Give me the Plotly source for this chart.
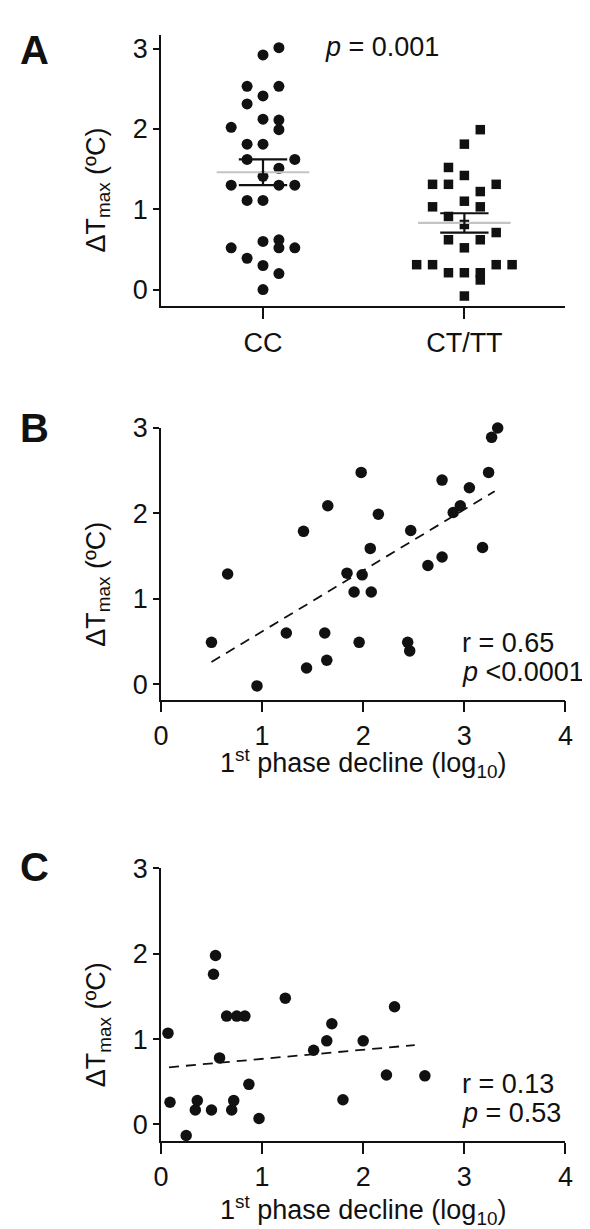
import plotly.graph_objects as go

# ---- panel A: dot plot by genotype ----
groups = ["CC", "CT/TT"]
cc_values = [3.01, 2.92, 2.53, 2.53, 2.41, 2.31, 2.12, 2.11, 2.02, 1.99, 1.81, 1.81,
             1.62, 1.62, 1.51, 1.41, 1.30, 1.30, 1.30, 1.11, 1.11,
             0.60, 0.62, 0.52, 0.52, 0.52, 0.39, 0.30, 0.20, 0.00]
cc_slots = [1, 0, -1, 1, 0, -1, 0, 1, -2, 1, -1, 0,
            -1, 2, 1, 0, -2, 1, 2, -1, 0,
            0, 1, -2, 1, 2, -1, 0, 1, 0]
ct_values = [1.99, 1.81, 1.52, 1.42, 1.31, 1.31, 1.31, 1.22, 1.10, 1.03, 1.03,
             0.91, 0.81, 0.71, 0.62, 0.62, 0.52, 0.31, 0.31, 0.31, 0.31,
             0.21, 0.21, 0.21, 0.12, -0.08]
ct_slots = [1, 0, -1, 0, -2, -1, 2, 1, 0, -2, 1,
            -1, 0, 2, -1, 1, 0, -3, -2, 2, 3,
            -1, 0, 1, 1, 0]
group_means = [1.46, 0.83]
group_sems = [0.16, 0.12]
p_text_a = "<i>p</i> = 0.001"

# ---- panel B ----
b_x = [0.50, 0.66, 0.95, 1.24, 1.41, 1.44, 1.62, 1.64, 1.65, 1.84, 1.91, 1.96, 1.98, 1.99,
       2.07, 2.08, 2.15, 2.44, 2.46, 2.47, 2.64, 2.78, 2.78, 2.89, 2.96, 3.05, 3.18, 3.24,
       3.27, 3.33]
b_y = [0.49, 1.29, -0.02, 0.60, 1.79, 0.19, 0.60, 0.28, 2.09, 1.30, 1.08, 0.49, 2.48, 1.28,
       1.59, 1.08, 1.99, 0.49, 0.39, 1.80, 1.39, 2.39, 1.49, 2.01, 2.09, 2.30, 1.60, 2.48,
       2.89, 3.00]
b_fit_x = [0.50, 3.30]
b_fit_y = [0.26, 2.26]
b_stats = ["r = 0.65", "<i>p</i> &lt;0.0001"]

# ---- panel C ----
c_x = [0.07, 0.09, 0.25, 0.34, 0.36, 0.50, 0.52, 0.54, 0.58, 0.65, 0.70, 0.72, 0.75, 0.83,
       0.87, 0.97, 1.23, 1.51, 1.64, 1.69, 1.80, 2.00, 2.23, 2.31, 2.61]
c_y = [1.07, 0.26, -0.13, 0.17, 0.28, 0.17, 1.76, 1.98, 0.78, 1.27, 0.17, 0.28, 1.27, 1.27,
       0.47, 0.07, 1.48, 0.87, 0.98, 1.18, 0.29, 0.98, 0.58, 1.38, 0.57]
c_fit_x = [0.08, 2.51]
c_fit_y = [0.67, 0.93]
c_stats = ["r = 0.13", "<i>p</i> = 0.53"]

y_title = "ΔT<sub>max</sub> (ºC)"
x_title = "1<sup>st</sup> phase decline (log<sub>10</sub>)"

FONT = "Arial, Liberation Sans, Helvetica, sans-serif"
INK = "#111111"
# page body has an 8px margin, so the figure is a bit smaller than the window
PAD = 8
W, H = 590 - PAD, 1229 - PAD
SLOT = 0.079


def px(x):
    return (x - PAD) / W


def py(y):
    return 1 - (y - PAD) / H


fig = go.Figure()

# panel A points
fig.add_trace(go.Scatter(
    x=[0 + s * SLOT for s in cc_slots], y=cc_values, mode="markers",
    marker=dict(symbol="circle", size=11, color=INK),
    xaxis="x", yaxis="y", cliponaxis=False,
))
fig.add_trace(go.Scatter(
    x=[1 + s * SLOT for s in ct_slots], y=ct_values, mode="markers",
    marker=dict(symbol="square", size=9.5, color=INK),
    xaxis="x", yaxis="y", cliponaxis=False,
))

# mean lines (grey) and SEM bars (black)
mx, my, ex, ey = [], [], [], []
for g, (m, s) in enumerate(zip(group_means, group_sems)):
    mx += [g - 0.23, g + 0.23, None]
    my += [m, m, None]
    ex += [g - 0.12, g + 0.12, None, g, g, None, g - 0.12, g + 0.12, None]
    ey += [m + s, m + s, None, m + s, m - s, None, m - s, m - s, None]
fig.add_trace(go.Scatter(x=mx, y=my, mode="lines",
                         line=dict(color="#c4c4c4", width=2.2),
                         xaxis="x", yaxis="y"))
fig.add_trace(go.Scatter(x=ex, y=ey, mode="lines",
                         line=dict(color=INK, width=2.2),
                         xaxis="x", yaxis="y"))

# panel B
fig.add_trace(go.Scatter(x=b_x, y=b_y, mode="markers",
                         marker=dict(size=11.5, color=INK),
                         xaxis="x2", yaxis="y2", cliponaxis=False))
fig.add_trace(go.Scatter(x=b_fit_x, y=b_fit_y, mode="lines",
                         line=dict(color=INK, width=1.8, dash="10px,7px"),
                         xaxis="x2", yaxis="y2"))

# panel C
fig.add_trace(go.Scatter(x=c_x, y=c_y, mode="markers",
                         marker=dict(size=11.5, color=INK),
                         xaxis="x3", yaxis="y3", cliponaxis=False))
fig.add_trace(go.Scatter(x=c_fit_x, y=c_fit_y, mode="lines",
                         line=dict(color=INK, width=1.8, dash="10px,7px"),
                         xaxis="x3", yaxis="y3"))

x_dom = [px(157), px(573)]


def ydom(top_px, bottom_px):
    return [py(bottom_px), py(top_px)]


axis_style = dict(
    showline=True, linecolor=INK, linewidth=1.6,
    ticks="outside", tickcolor=INK, tickwidth=1.6,
    showgrid=False, zeroline=False,
    tickfont=dict(family=FONT, size=27, color=INK),
)

fig.update_layout(
    width=W, height=H,
    margin=dict(l=0, r=0, t=0, b=0),
    paper_bgcolor="white", plot_bgcolor="white",
    showlegend=False,
    font=dict(family=FONT, color=INK),
    xaxis=dict(axis_style, domain=x_dom, anchor="y", range=[-0.507, 1.502],
               tickvals=[0, 1], ticktext=groups, ticklen=11),
    yaxis=dict(axis_style, domain=ydom(20, 295), anchor="x", range=[-0.21, 3.17],
               tickvals=[0, 1, 2, 3], ticklen=6),
    xaxis2=dict(axis_style, domain=x_dom, anchor="y2", range=[0, 4],
                tickvals=[0, 1, 2, 3, 4], ticklen=11),
    yaxis2=dict(axis_style, domain=ydom(418, 693), anchor="x2", range=[-0.18, 3.0],
                tickvals=[0, 1, 2, 3], ticklen=6),
    xaxis3=dict(axis_style, domain=x_dom, anchor="y3", range=[0, 4],
                tickvals=[0, 1, 2, 3, 4], ticklen=11),
    yaxis3=dict(axis_style, domain=ydom(864, 1140), anchor="x3", range=[-0.195, 3.0],
                tickvals=[0, 1, 2, 3], ticklen=6),
)

ann_font = dict(family=FONT, size=27, color=INK)

# panel letters
for letter, ypos in [("A", 35), ("B", 418), ("C", 862)]:
    fig.add_annotation(text=f"<b>{letter}</b>", xref="paper", yref="paper",
                       x=px(27), y=py(ypos), xanchor="center", yanchor="middle",
                       showarrow=False, font=dict(family=FONT, size=40, color=INK))

# y titles
for ypos in [177, 576, 1022]:
    fig.add_annotation(text=y_title, xref="paper", yref="paper", textangle=-90,
                       x=px(92), y=py(ypos), xanchor="center", yanchor="middle",
                       showarrow=False, font=ann_font)

# x titles
for ref, ypos in [("x2", 757), ("x3", 1210)]:
    fig.add_annotation(text=x_title, xref=ref, yref="paper", x=2,
                       y=py(ypos), xanchor="center", yanchor="middle",
                       showarrow=False, font=ann_font)

# stats text
fig.add_annotation(text=p_text_a, xref="x", yref="y", x=0.296, y=3.02,
                   xanchor="left", yanchor="middle", showarrow=False, font=ann_font)
for ref, lines in [(("x2", "y2"), b_stats), (("x3", "y3"), c_stats)]:
    for txt, yv in zip(lines, [0.48, 0.14]):
        fig.add_annotation(text=txt, xref=ref[0], yref=ref[1], x=2.96, y=yv,
                           xanchor="left", yanchor="middle", showarrow=False,
                           font=ann_font)

fig.write_html("out.html")
